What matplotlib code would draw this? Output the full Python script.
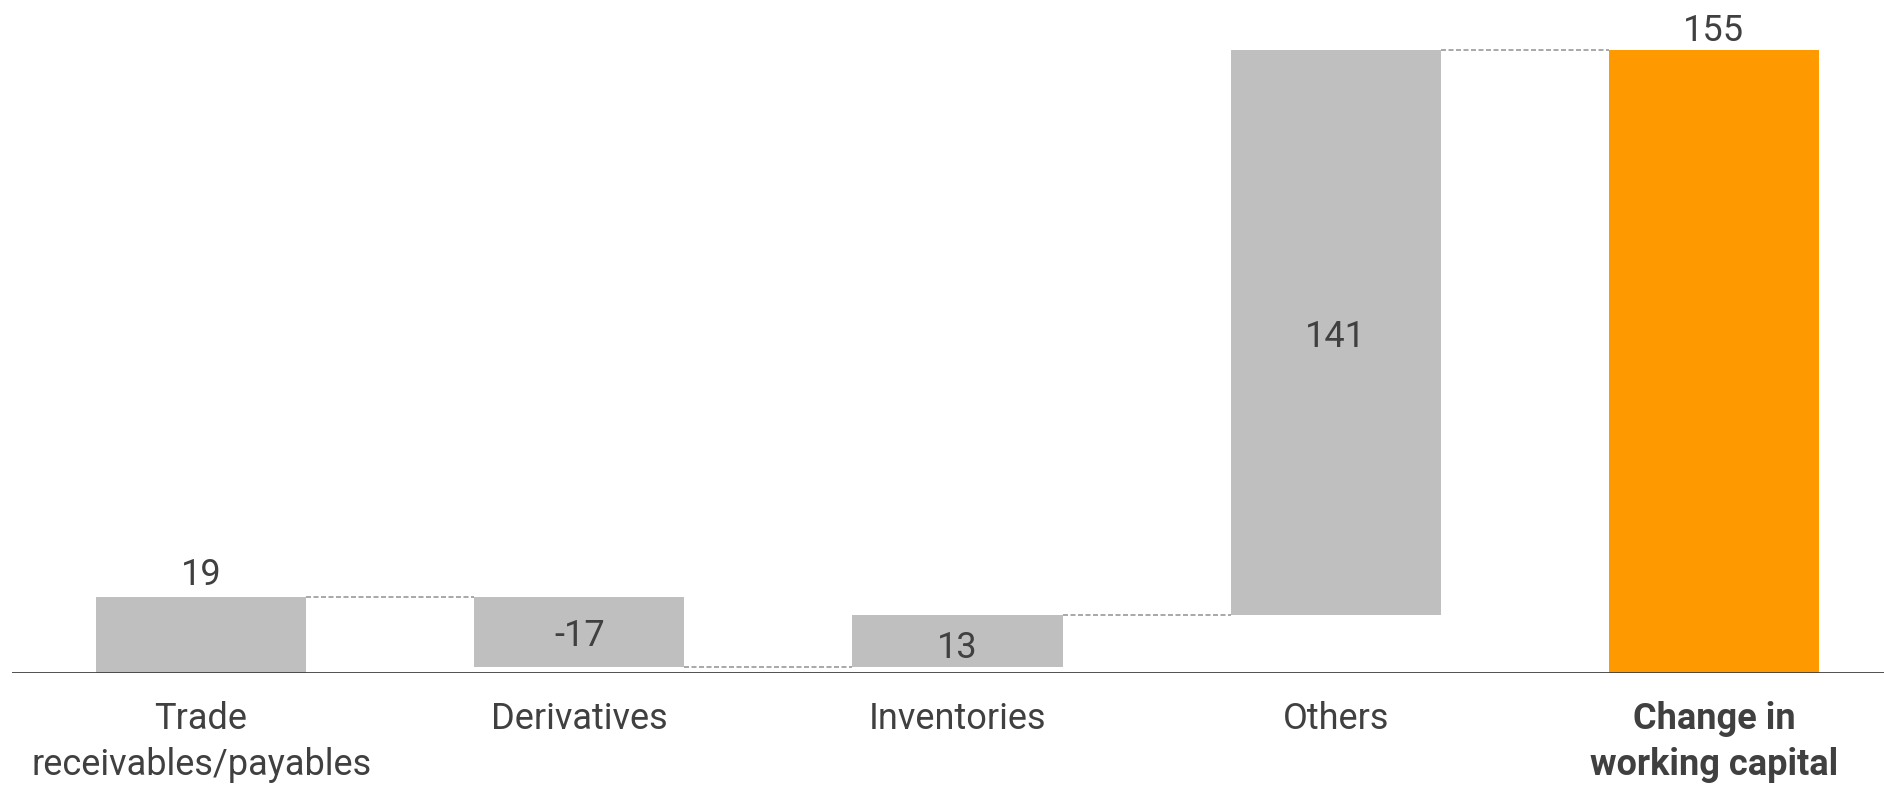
import numpy as np
import matplotlib.pyplot as plt

# data
categories = ['Trade\nreceivables/payables', 'Derivatives', 'Inventories', 'Others',
              'Change in\nworking capital']
deltas = [19.0, -17.4, 12.9, 140.5]   # bar sizes as drawn
total = 155
value_labels = ['19', '-17', '13', '141', '155']

GREY = '#BFBFBF'
ORANGE = '#FF9900'
TXT = '#404040'

plt.rcParams['font.family'] = ['Roboto', 'DejaVu Sans']

fig = plt.figure(figsize=(18.84, 7.85), dpi=100)
ax = fig.add_axes([12/1884, 112/785, 1 - 12/1884, 673/785])

x = np.arange(len(categories))
w = 0.556

# waterfall steps
ends = np.cumsum(deltas)
starts = ends - np.array(deltas)
bottoms = np.minimum(starts, ends)
heights = np.abs(deltas)

ax.bar(x[:-1], heights, bottom=bottoms, width=w, color=GREY)
ax.bar(x[-1], total, width=w, color=ORANGE)

# dashed connectors between bars
for i in range(len(deltas)):
    ax.plot([x[i] + w/2, x[i+1] - w/2], [ends[i], ends[i]],
            ls=(0, (3, 1.5)), color='#999999', lw=1.2)

# value labels
fs = 26
kw = dict(ha='center', fontsize=fs, color=TXT)
ax.text(x[0], ends[0] + 0.8, value_labels[0], va='bottom', **kw)
ax.text(x[1], (starts[1] + ends[1]) / 2 - 1.2, value_labels[1], va='center', **kw)
ax.text(x[2], starts[2] + 0.2, value_labels[2], va='bottom', **kw)
ax.text(x[3], (starts[3] + ends[3]) / 2 - 1.2, value_labels[3], va='center', **kw)
ax.text(x[4], total + 0.3, value_labels[4], va='bottom', **kw)

ax.axhline(0, color=TXT, lw=2)
ax.set_xlim(-0.5, 4.45)
ax.set_ylim(0, 167.4)
ax.set_yticks([])
ax.set_xticks(x)
ax.set_xticklabels(categories, fontsize=fs, color=TXT, linespacing=1.36)
ax.get_xticklabels()[-1].set_fontweight('bold')
ax.tick_params(axis='x', length=0, pad=20)
for s in ax.spines.values():
    s.set_visible(False)

fig.savefig('out.png', dpi=100)
